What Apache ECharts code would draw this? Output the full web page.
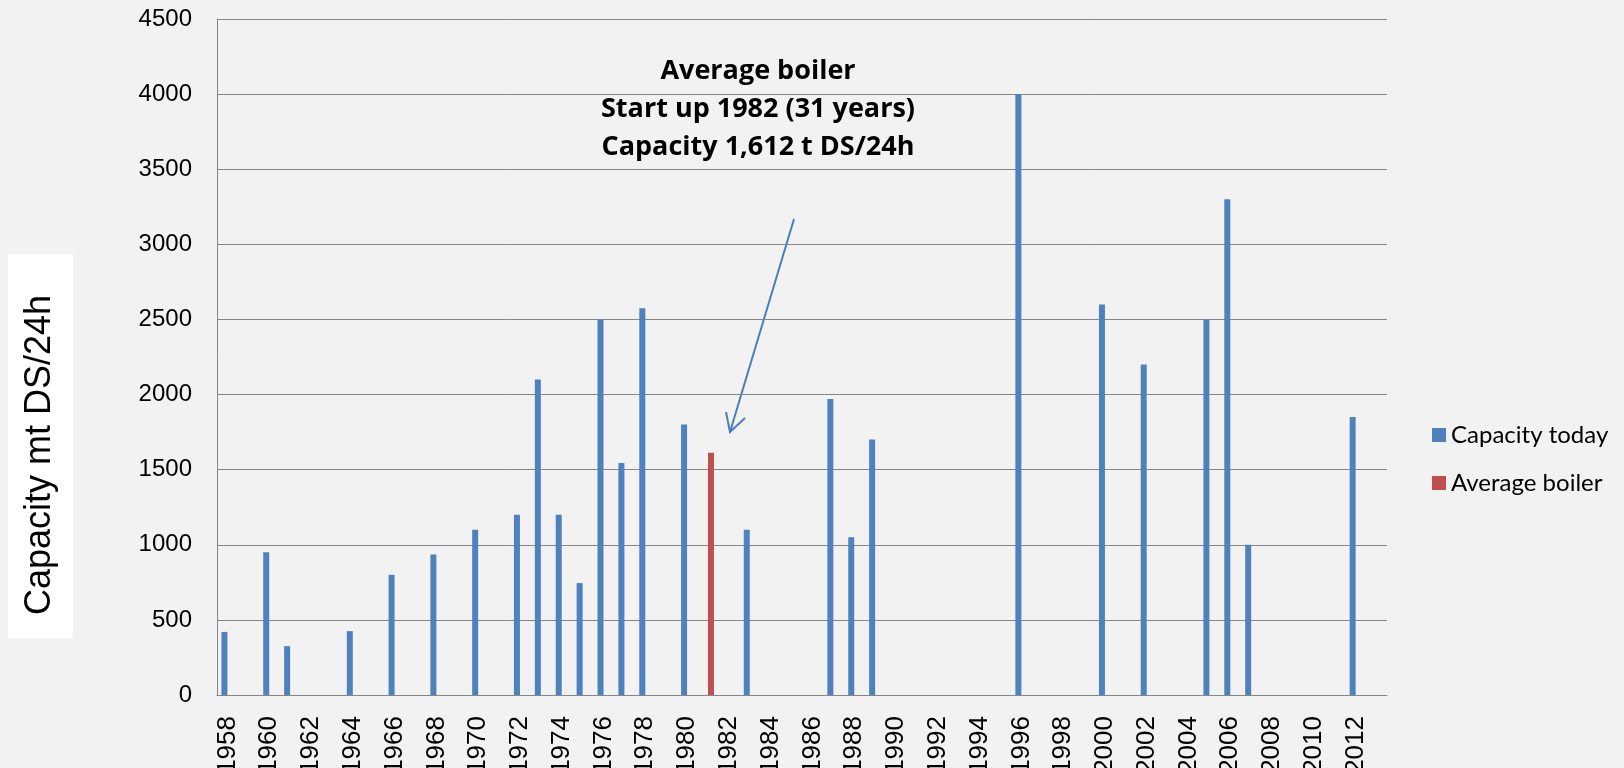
<!DOCTYPE html>
<html>
<head>
<meta charset="utf-8">
<style>
  html, body { margin: 0; padding: 0; background: #f2f2f2; }
  #chart { width: 1624px; height: 768px; }
</style>
<script src="https://cdn.jsdelivr.net/npm/echarts@6/dist/echarts.min.js"></script>
</head>
<body>
<div id="chart"></div>
<script>
// categories on the x axis (one per year)
var years = ['1958', '1959', '1960', '1961', '1962', '1963', '1964', '1965', '1966', '1967',
  '1968', '1969', '1970', '1971', '1972', '1973', '1974', '1975', '1976', '1977',
  '1978', '1979', '1980', '1981', '1982', '1983', '1984', '1985', '1986', '1987',
  '1988', '1989', '1990', '1991', '1992', '1993', '1994', '1995', '1996', '1997',
  '1998', '1999', '2000', '2001', '2002', '2003', '2004', '2005', '2006', '2007',
  '2008', '2009', '2010', '2011', '2012', '2013'];

// boilers: start-up year and capacity today
var capacityYears = ['1958', '1960', '1961', '1964', '1966', '1968', '1970', '1972', '1973', '1974',
  '1975', '1976', '1977', '1978', '1980', '1983', '1987', '1988', '1989', '1996',
  '2000', '2002', '2005', '2006', '2007', '2012'];
var capacityToday = [420, 950, 325, 425, 800, 935, 1100, 1200, 2100, 1200,
  745, 2500, 1545, 2575, 1800, 1100, 1970, 1050, 1700, 4000,
  2600, 2200, 2500, 3300, 1000, 1850];

// the average boiler
var averageYears = ['1981'];
var averageBoiler = [1612];

var yTicks = [0, 500, 1000, 1500, 2000, 2500, 3000, 3500, 4000, 4500];

function toSeries(keys, vals) {
  var out = years.map(function () { return null; });
  keys.forEach(function (k, i) { out[years.indexOf(k)] = vals[i]; });
  return out;
}

var chart = echarts.init(document.getElementById('chart'));
chart.setOption({
  backgroundColor: '#f2f2f2',
  animation: false,
  grid: { left: 217, right: 237, top: 19, bottom: 73, containLabel: false, outerBoundsMode: 'none' },
  legend: {
    orient: 'vertical',
    left: 1432,
    top: 423,
    padding: 0,
    itemWidth: 14,
    itemHeight: 14,
    itemGap: 24,
    icon: 'rect',
    textStyle: { fontFamily: 'Lato', fontSize: 24, color: '#000' },
    data: ['Capacity today', 'Average boiler']
  },
  xAxis: {
    type: 'category',
    data: years,
    axisLine: { lineStyle: { color: '#868686', width: 1 } },
    axisTick: { show: false },
    axisLabel: {
      interval: 1,
      rotate: 90,
      margin: 21,
      fontFamily: 'Liberation Sans',
      fontSize: 26,
      color: '#000'
    }
  },
  yAxis: {
    type: 'value',
    min: yTicks[0],
    max: yTicks[yTicks.length - 1],
    interval: 500,
    axisLine: { show: true, lineStyle: { color: '#868686', width: 1 } },
    axisTick: { show: false },
    splitLine: { lineStyle: { color: '#868686', width: 1 } },
    axisLabel: {
      margin: 25, fontFamily: 'Liberation Sans', fontSize: 24, color: '#000',
      formatter: function (v) { return String(v); }
    }
  },
  series: [
    {
      name: 'Capacity today',
      type: 'bar',
      barWidth: 6,
      barGap: '0%',
      itemStyle: { color: '#4f81bd' },
      data: toSeries(capacityYears, capacityToday)
    },
    {
      name: 'Average boiler',
      type: 'bar',
      barWidth: 6,
      barGap: '0%',
      itemStyle: { color: '#c0504d' },
      data: toSeries(averageYears, averageBoiler)
    }
  ],
  graphic: [
    // y axis title in its white box
    { type: 'rect', shape: { x: 8, y: 254, width: 65, height: 384 }, style: { fill: '#ffffff' }, silent: true },
    {
      type: 'text', x: 40, y: 455, rotation: Math.PI / 2,
      style: {
        text: 'Capacity mt DS/24h', fontFamily: 'Liberation Sans', fontSize: 36,
        fill: '#000', align: 'center', verticalAlign: 'middle'
      }
    },
    // annotation
    {
      type: 'text', x: 758, y: 52,
      style: {
        text: 'Average boiler\nStart up 1982 (31 years)\nCapacity 1,612 t DS/24h',
        fontFamily: 'Open Sans', fontWeight: 'bold', fontSize: 27, lineHeight: 38,
        fill: '#000', align: 'center', verticalAlign: 'top'
      }
    },
    // arrow
    { type: 'line', shape: { x1: 794, y1: 219, x2: 730, y2: 432 }, style: { stroke: '#4a7ebb', lineWidth: 2 } },
    { type: 'polyline', shape: { points: [[726, 412], [730, 432], [745, 418]] }, style: { stroke: '#4a7ebb', lineWidth: 2, fill: null } }
  ]
});
</script>
</body>
</html>
